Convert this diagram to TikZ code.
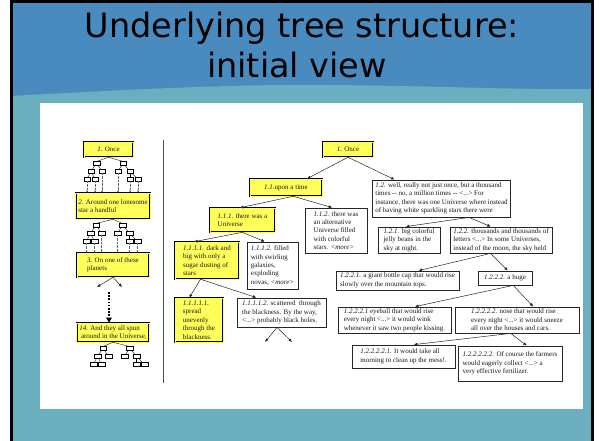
\documentclass[tikz,border=0pt]{standalone}
\usepackage{fontspec}
\setmainfont{Liberation Serif}
\newfontfamily\titlefont{DejaVu Sans}
\usetikzlibrary{arrows.meta,calc}
\definecolor{slideblue}{RGB}{74,139,191}
\definecolor{slideteal}{RGB}{106,174,192}
\definecolor{boxyellow}{RGB}{255,255,90}

% box from corner (x1,y1) to corner (x2,y2): style, name, x1, y1, x2, y2, text
\newcommand\bx[7]{%
  \pgfmathsetmacro\bw{#5-#3}\pgfmathsetmacro\bh{#6-#4}%
  \pgfmathsetmacro\bcx{(#3+#5)/2}\pgfmathsetmacro\bcy{(#4+#6)/2}%
  \node[#1, minimum width=\bw pt, minimum height=\bh pt] (#2) at (\bcx,\bcy) {#7};}
% arrow from a point on the parent's lower edge to a point on the child's upper edge
\newcommand\link[4]{%
  \draw[arr] ($(#1.south west)!#2!(#1.south east)$) -- ($(#3.north west)!#4!(#3.north east)$);}
% small overview tree under a box: prefix, box name, horizontal offset
\newcommand\minitree[3]{%
  \coordinate (#1c) at ($(#2.south)+(#3,0)$);
  \node[mini] (#1a)   at ($(#1c)+(-12,6)$) {};
  \node[mini] (#1b)   at ($(#1c)+(14.5,6)$) {};
  \node[mini] (#1aa)  at ($(#1c)+(-17.5,14)$) {};
  \node[mini] (#1ab)  at ($(#1c)+(-6.5,14)$) {};
  \node[mini] (#1ba)  at ($(#1c)+(9.5,14)$) {};
  \node[mini] (#1bb)  at ($(#1c)+(21.5,14)$) {};
  \node[mini] (#1aaa) at ($(#1c)+(-21.5,22)$) {};
  \node[mini] (#1aab) at ($(#1c)+(-13.5,22)$) {};
  \node[mini] (#1bba) at ($(#1c)+(21.5,22)$) {};
  \node[mini] (#1bbb) at ($(#1c)+(29.5,22)$) {};
  \draw[mline] (#2.south) -- (#1a.north);
  \draw[mline] (#2.south) -- (#1b.north);
  \draw[mline] (#1a) -- (#1aa); \draw[mline] (#1a) -- (#1ab);
  \draw[mline] (#1b) -- (#1ba); \draw[mline] (#1b) -- (#1bb);
  \draw[mline] (#1aa) -- (#1aaa); \draw[mline] (#1aa) -- (#1aab);
  \draw[mline] (#1bb) -- (#1bba); \draw[mline] (#1bb) -- (#1bbb);}
% dotted drops from the leaves of a small tree to the next box
\newcommand\drops[2]{%
  \foreach \l in {aaa,aab,ab,ba,bba,bbb}
    \draw[dline] (#1\l.south) -- (#1\l.south |- #2.north);}

\tikzset{
  txt/.style={font=\fontsize{7}{8.4}\selectfont, align=left, inner xsep=2.5pt, inner ysep=1pt, text=black!90},
  ybox/.style={txt, fill=boxyellow, draw=black, line width=0.55pt, double=boxyellow, double distance=0.8pt},
  wbox/.style={txt, fill=white, draw=black!85, line width=0.8pt},
  arr/.style={line width=0.5pt, black!85, -{Latex[length=3.5pt,width=3pt]}},
  mini/.style={draw, fill=white, line width=0.4pt, minimum width=6.5pt, minimum height=3.2pt, inner sep=0pt},
  mline/.style={line width=0.35pt},
  dline/.style={line width=0.35pt, black!60, densely dotted, -{Latex[length=2pt,width=1.8pt]}},
  titletxt/.style={font=\titlefont\fontsize{33.5}{38}\selectfont, anchor=base, text=black}
}

\begin{document}
\begin{tikzpicture}[x=1pt,y=-1pt]
\useasboundingbox (0,0) rectangle (600,441);
\fill[white] (0,0) rectangle (600,441);
% slide background
\fill[slideblue] (11,2) rectangle (593,441);
\fill[slideteal] (11,96) .. controls (120,90) and (230,84) .. (330,85)
  .. controls (440,86) and (520,90) .. (593,89) -- (593,441) -- (11,441) -- cycle;
\draw[line width=3pt] (11.5,2) -- (11.5,441);
\draw[line width=3pt] (592.5,2) -- (592.5,441);
\draw[line width=3pt] (10,2) -- (594,2);

% title
\node[titletxt] (t1) at (302,38) {Underlying tree structure:};
\node[titletxt] (t2) at (297,78) {initial view};

% content panel
\fill[white] (40,103) rectangle (583,409);
\draw[line width=0.6pt, black!70] (163,140) -- (163,383);

% overview column
\bx{ybox}{L1}{84}{142}{133}{157}{\textit{1.} Once}
\bx{ybox}{L2}{77}{193}{149}{219}{\textit{2.} Around one lonesome\\star a handful}
\bx{ybox}{L3}{77}{253}{149}{277}{\textit{3.} On one of these\\planets}
\bx{ybox}{L14}{78}{323}{148}{342}{\textit{14.} And they all spun\\\ around in the Universe,}

\minitree{p}{L1}{0}
\minitree{q}{L2}{-5}
\minitree{r}{L14}{2}
\drops{p}{L2}
\drops{q}{L3}

\coordinate (l3a) at (97,287);
\coordinate (l3b) at (122,287);
\draw[arr] (L3.south) -- (l3a);
\draw[arr] (L3.south) -- (l3b);
\coordinate (gap) at (109,292);
\draw[line width=1.6pt, dash pattern=on 1.6pt off 1.6pt, -{Triangle[length=5pt,width=5.5pt]}]
  (gap) -- (gap |- L14.north);

% detailed tree
\bx{ybox}{R1}{323}{142}{373}{157}{\textit{1.} Once}
\bx{ybox}{R11}{250}{179}{322}{196}{\textit{1.1.}upon a time}
\bx{wbox}{R12}{373}{180}{510}{217}{\textit{1.2.} well, really not just once, but a thousand\\times -{}- no, a million times -{}- <...> For\\instance, there was one Universe where instead\\of having white sparkling stars there were}
\bx{ybox}{R111}{210}{208}{275}{232}{\textit{1.1.1.} there was a\\Universe}
\bx{wbox}{R112}{305}{208}{367}{253}{\textit{1.1.2.} there was\\an alternative\\Universe filled\\with colorful\\stars. \textit{<more>}}
\bx{wbox}{R121}{378}{227}{440}{253}{\textit{1.2.1.} big colorful\\jelly beans in the\\sky at night.}
\bx{wbox}{R122}{450}{227}{552}{253}{\textit{1.2.2.} thousands and thousands of\\letters <...> In some Universes,\\instead of the moon, the sky held}
\bx{ybox}{R1111}{175}{242}{239}{279}{\textit{1.1.1.1.} dark and\\big with only a\\sugar dusting of\\stars}
\bx{wbox}{R1112}{247}{242}{298}{289}{\textit{1.1.1.2.} filled\\with swirling\\galaxies,\\exploding\\novas, \textit{<more>}}
\bx{wbox}{R1221}{336}{271}{459}{290}{\textit{1.2.2.1.} a giant bottle cap that would rise\\slowly over the mountain tops.}
\bx{wbox}{R1222}{478}{271}{532}{285}{\textit{1.2.2.2.} a huge}
\bx{ybox}{R11111}{175}{298}{223}{342}{\textit{1.1.1.1.1.}\\spread\\unevenly\\through the\\blackness.}
\bx{wbox}{R11112}{237}{298}{326}{327}{\textit{1.1.1.1.2.} scattered\ \ through\\the blackness. By the way,\\<...> probably black holes.}
\bx{wbox}{R12221}{338}{307}{451}{333}{\textit{1.2.2.2.1} eyeball that would rise\\every night <...> it would wink\\whenever it saw two people kissing.}
\bx{wbox}{R12222}{455}{307}{579}{333}{\textit{1.2.2.2.2.} nose that would rise\\every night <...> it would sneeze\\all over the houses and cars.}
\bx{wbox}{R122221}{352}{345}{455}{368}{\textit{1.2.2.2.2.1.} It would take all\\morning to clean up the mess!.}
\bx{wbox}{R122222}{458}{346}{562}{381}{\textit{1.2.2.2.2.2.} Of course the farmers\\would eagerly collect <...> a\\very effective fertilizer.}

\link{R1}{.5}{R11}{.79}
\link{R1}{.5}{R12}{.16}
\link{R11}{.6}{R111}{.46}
\link{R11}{.6}{R112}{.44}
\link{R111}{.5}{R1111}{.3}
\link{R111}{.5}{R1112}{.35}
\link{R1111}{.4}{R11111}{.3}
\link{R1111}{.4}{R11112}{.22}
\link{R12}{.7}{R121}{.45}
\link{R12}{.7}{R122}{.4}
\link{R122}{.4}{R1221}{.67}
\link{R122}{.4}{R1222}{.55}
\link{R1222}{.65}{R12221}{.68}
\link{R1222}{.65}{R12222}{.63}
\link{R12222}{.45}{R122221}{.6}
\link{R12222}{.45}{R122222}{.66}

\coordinate (e1) at (265,342);
\coordinate (e2) at (292,342);
\draw[arr] ($(R11112.south west)!.45!(R11112.south east)$) -- (e1);
\draw[arr] ($(R11112.south west)!.45!(R11112.south east)$) -- (e2);
\end{tikzpicture}
\end{document}
